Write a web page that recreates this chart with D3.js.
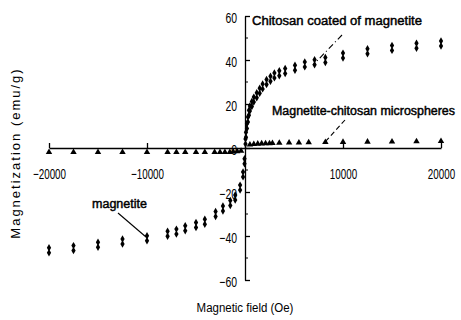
<!DOCTYPE html>
<html>
<head>
<meta charset="utf-8">
<script src="https://cdn.jsdelivr.net/npm/d3@7"></script>
<style>
  html, body { margin: 0; padding: 0; background: #fff; }
  svg { display: block; }
  text { fill: #000; }
</style>
</head>
<body>
<div id="container"></div>
<script>
"use strict";

// Chitosan coated of magnetite (field > 0)
const coatedField = [50, 100, 200, 300, 400, 500, 700, 900, 1200, 1500, 1800, 2200, 2600, 3000, 3500,
  4100, 5100, 6100, 7100, 8200, 10000, 12500, 15000, 17500, 20000];
const coatedMag = [3, 6, 10, 13, 16, 18, 20, 22, 24, 26, 28, 30, 31.5, 33, 34,
  35, 36.5, 38, 39, 40, 42, 44, 45.5, 46.5, 47.5];

// Magnetite (field < 0)
const magnetiteField = [-20000, -17500, -15000, -12500, -10000, -7900, -7000, -6100, -5000, -4100,
  -3000, -2250, -1500, -1000, -500, -200, -50];
const magnetiteMag = [-46.5, -45.5, -44, -42.5, -41, -39, -38, -36.5, -35, -33.5,
  -30, -27.5, -25, -22.5, -18, -12, -6];

// Magnetite-chitosan microspheres
const sphereField = [-20000, -17500, -15000, -12500, -10000, -7900, -7000, -6100, -5000, -4100,
  -3100, -2550, -2050, -1550, -1200, -800, -400,
  500, 900, 1300, 1700, 2100, 2500, 2800, 3500, 4500, 5500, 6500, 8200, 10000, 12500, 15000, 17500, 20000];
const sphereMag = [-1, -1, -1, -1, -1, -1, -1, -1, -1, -1,
  -1, -1, -1, -1, -0.8, -0.6, -0.4,
  0.6, 0.8, 1, 1.1, 1.2, 1.2, 1.3, 1.4, 1.5, 1.5, 1.6, 1.7, 1.8, 1.9, 2, 2.1, 2.2];

const xTicks = [-20000, -10000, 0, 10000, 20000];
const yTicks = [-60, -40, -20, 0, 20, 40, 60];
const yMinorTicks = [-50, -30, -10, 10, 30, 50];

const width = 461;
const height = 320;
const font = "'Liberation Sans', Arial, sans-serif";

const x = d3.scaleLinear().domain([-20000, 20000]).range([49, 441]);
const y = d3.scaleLinear().domain([-60, 60]).range([280, 16]);

const svg = d3.create("svg").attr("width", width).attr("height", height);
container.append(svg.node());

// x-axis through origin
const xAxis = d3.axisBottom(x)
  .tickValues(xTicks)
  .tickSizeInner(-5)
  .tickSizeOuter(0)
  .tickPadding(21)
  .tickFormat((d) => (d === 0 ? "" : d3.format("d")(d)));

// Tick labels are squeezed sideways, the source font is a narrow one.
svg.append("g")
  .attr("transform", `translate(0, ${y(0)})`)
  .call(xAxis)
  .call((g) => g.selectAll("line, path").attr("stroke", "#000").attr("stroke-width", 1.3))
  .call((g) => g.selectAll("text").style("font-family", font).style("font-size", "14.5px")
    .attr("fill", "#000").attr("transform", "scale(0.68, 1)"));

// y-axis through origin, ticks on the right side
const yAxis = d3.axisLeft(y)
  .tickValues(yTicks)
  .tickSizeInner(-5)
  .tickSizeOuter(0)
  .tickPadding(8);

const yScaleX = 0.72;
svg.append("g")
  .attr("transform", `translate(${x(0)}, 0)`)
  .call(yAxis)
  .call((g) => g.selectAll("line, path").attr("stroke", "#000").attr("stroke-width", 1.3))
  .call((g) => g.selectAll("text").style("font-family", font).style("font-size", "14.5px")
    .attr("fill", "#000").attr("dy", "0.45em")
    .attr("x", -8 / yScaleX).attr("transform", `scale(${yScaleX}, 1)`));

svg.append("g")
  .selectAll("line")
  .data(yMinorTicks)
  .join("line")
  .attr("x1", x(0))
  .attr("x2", x(0) + 3)
  .attr("y1", (d) => y(d))
  .attr("y2", (d) => y(d))
  .attr("stroke", "#000");

// Triangles: microspheres
svg.append("g")
  .selectAll("path")
  .data(d3.zip(sphereField, sphereMag))
  .join("path")
  .attr("d", d3.symbol(d3.symbolTriangle, 18))
  .attr("transform", (d) => `translate(${x(d[0])}, ${y(d[1]) + (d[1] < 0 ? 2 : -2)})`)
  .attr("fill", "#000");

// Stacked diamonds: the two magnetite curves
const diamond = d3.symbol(d3.symbolDiamond, 16);
const drawPairs = (field, mag) => {
  const g = svg.append("g").selectAll("g")
    .data(d3.zip(field, mag))
    .join("g")
    .attr("transform", (d) => `translate(${x(d[0])}, ${y(d[1])})`);
  g.append("path").attr("d", diamond).attr("transform", "translate(0, -2.5)").attr("fill", "#000");
  g.append("path").attr("d", diamond).attr("transform", "translate(0, 2.5)").attr("fill", "#000");
};
drawPairs(coatedField, coatedMag);
drawPairs(magnetiteField, magnetiteMag);

// Annotations
const label = (tx, ty, s, w) =>
  svg.append("text")
    .attr("x", tx)
    .attr("y", ty)
    .attr("textLength", w)
    .attr("lengthAdjust", "spacingAndGlyphs")
    .attr("stroke", "#000")
    .attr("stroke-width", 0.45)
    .style("font-family", font)
    .style("font-size", "12.5px")
    .text(s);

label(252, 25, "Chitosan coated of magnetite", 170);
label(272, 115, "Magnetite-chitosan microspheres", 183);
label(92, 208, "magnetite", 55);

svg.append("line")
  .attr("x1", 342).attr("y1", 35).attr("x2", 313).attr("y2", 65)
  .attr("stroke", "#000").attr("stroke-width", 1.1).attr("stroke-dasharray", "6,3,1,3");
svg.append("line")
  .attr("x1", 345).attr("y1", 120).attr("x2", 325).attr("y2", 142)
  .attr("stroke", "#000").attr("stroke-width", 1.1).attr("stroke-dasharray", "5,3");
svg.append("line")
  .attr("x1", 118).attr("y1", 213).attr("x2", 146).attr("y2", 237)
  .attr("stroke", "#000").attr("stroke-width", 1.1);

// Axis titles
svg.append("text")
  .attr("transform", "translate(245, 312) scale(0.85, 1)")
  .attr("text-anchor", "middle")
  .style("font-family", font)
  .style("font-size", "13.5px")
  .text("Magnetic field (Oe)");

svg.append("text")
  .attr("transform", "translate(20, 153) rotate(-90)")
  .attr("text-anchor", "middle")
  .style("font-family", font)
  .style("font-size", "13px")
  .style("letter-spacing", "2px")
  .text("Magnetization (emu/g)");
</script>
</body>
</html>
